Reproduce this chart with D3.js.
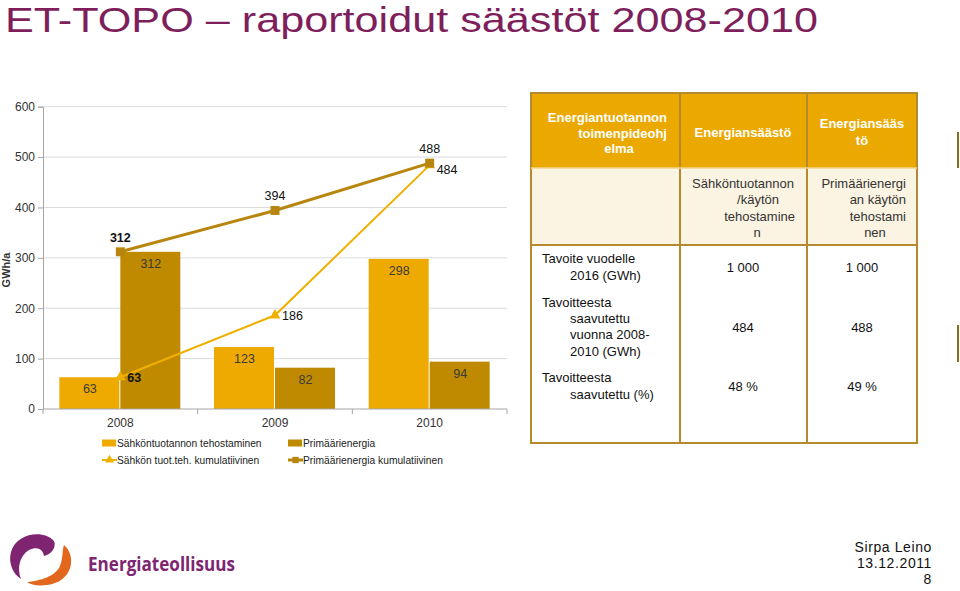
<!DOCTYPE html>
<html><head><meta charset="utf-8">
<script src="https://cdn.jsdelivr.net/npm/d3@7"></script>
<style>
html,body{margin:0;padding:0;background:#fff;}
svg{display:block;font-family:"Liberation Sans",Arial,sans-serif;}
</style></head>
<body>
<svg id="c" width="960" height="591"></svg>
<script>
// ---------- data ----------
const years = ["2008", "2009", "2010"];
const barSeries = ["Sähköntuotannon tehostaminen", "Primäärienergia"];
const sahkoBars = [63, 123, 298];
const primBars = [312, 82, 94];
const lineSeries = ["Sähkön tuot.teh. kumulatiivinen", "Primäärienergia kumulatiivinen"];
const sahkoCum = [63, 186, 484];
const primCum = [312, 394, 488];
const yTicks = [0, 100, 200, 300, 400, 500, 600];
const titleText = "ET-TOPO – raportoidut säästöt 2008-2010";
const yLabel = "GWh/a";

const tableHeader = [["Energiantuotannon", "toimenpideohj", "elma"], ["Energiansäästö"], ["Energiansääs", "tö"]];
const tableSub = [[], ["Sähköntuotannon", "/käytön", "tehostamine", "n"], ["Primäärienergi", "an käytön", "tehostami", "nen"]];
const rowLabels = [["Tavoite vuodelle", "2016 (GWh)"], ["Tavoitteesta", "saavutettu", "vuonna 2008-", "2010 (GWh)"], ["Tavoitteesta", "saavutettu (%)"]];
const colSahko = ["1 000", "484", "48 %"];
const colPrim = ["1 000", "488", "49 %"];
const footer = ["Sirpa Leino", "13.12.2011", "8"];
const logoText = "Energiateollisuus";

// ---------- styles ----------
const C_LIGHT = "#EEAA00", C_DARK = "#BF8A00";
const C_LINE_L = "#F0B000", C_LINE_D = "#B8860E";
const PURPLE = "#7E1F5C";

const svg = d3.select("#c");

// title
svg.append("text").attr("x", 5).attr("y", 32)
  .attr("font-family", "'Liberation Sans Narrow','Arial Narrow','Liberation Sans',sans-serif")
  .attr("font-size", 35).attr("fill", PURPLE)
  .attr("textLength", 813).attr("lengthAdjust", "spacingAndGlyphs")
  .text(titleText);

// ---------- chart ----------
const x0 = d3.scaleBand().domain(years).range([43, 507]).paddingInner(0).paddingOuter(0);
const x1 = d3.scaleBand().domain(barSeries).range([0, x0.bandwidth()]).paddingInner(0).paddingOuter(0.268);
const y = d3.scaleLinear().domain([0, 600]).range([409, 106.7]);

// gridlines
svg.append("g").selectAll("line").data(yTicks.filter(d => d > 0)).join("line")
  .attr("x1", 43).attr("x2", 507).attr("y1", d => y(d)).attr("y2", d => y(d))
  .attr("stroke", "#dcdcdc").attr("stroke-width", 1);

// y axis
const ya = svg.append("g").attr("transform", "translate(43,0)")
  .call(d3.axisLeft(y).tickValues(yTicks).tickSize(5).tickPadding(3));
ya.select(".domain").attr("stroke", "#a6a6a6");
ya.selectAll(".tick line").attr("stroke", "#a6a6a6");
ya.selectAll(".tick text").attr("font-size", 12).attr("fill", "#333").attr("font-family", "'Liberation Sans',Arial,sans-serif");

svg.append("text").attr("transform", "translate(10,270) rotate(-90)")
  .attr("text-anchor", "middle").attr("font-size", 11).attr("font-weight", "bold").attr("fill", "#333")
  .text(yLabel);

// bars
const barData = years.map((yr, i) => ({ yr, vals: [sahkoBars[i], primBars[i]] }));
const groups = svg.append("g").selectAll("g").data(barData).join("g")
  .attr("transform", d => `translate(${x0(d.yr)},0)`);
groups.selectAll("rect").data(d => d.vals.map((v, k) => ({ k, v }))).join("rect")
  .attr("x", d => x1(barSeries[d.k])).attr("width", x1.bandwidth() - 1)
  .attr("y", d => y(d.v)).attr("height", d => y(0) - y(d.v))
  .attr("fill", d => d.k === 0 ? C_LIGHT : C_DARK);
groups.selectAll("text").data(d => d.vals.map((v, k) => ({ k, v }))).join("text")
  .attr("x", d => x1(barSeries[d.k]) + x1.bandwidth() / 2).attr("y", d => y(d.v) + 16)
  .attr("text-anchor", "middle").attr("font-size", 12.5).attr("fill", "#3a3a3a")
  .text(d => d.v);

// x axis
const xa = svg.append("g").attr("transform", "translate(0,409)");
xa.append("line").attr("x1", 43).attr("x2", 507).attr("stroke", "#a6a6a6");
xa.selectAll("line.t").data(years.map(yr => x0(yr) + x0.bandwidth()).concat([x0(years[0])])).join("line")
  .attr("class", "t").attr("x1", d => d).attr("x2", d => d).attr("y1", 0).attr("y2", 5).attr("stroke", "#a6a6a6");
xa.selectAll("text").data(years).join("text")
  .attr("x", d => x0(d) + x0.bandwidth() / 2).attr("y", 18).attr("text-anchor", "middle")
  .attr("font-size", 12).attr("fill", "#333").text(d => d);

// lines
const cx = yr => x0(yr) + x0.bandwidth() / 2;
const lineGen = d3.line().x(d => cx(d.yr)).y(d => y(d.v));
const primPts = years.map((yr, i) => ({ yr, v: primCum[i], i }));
const sahkoPts = years.map((yr, i) => ({ yr, v: sahkoCum[i], i }));
svg.append("path").datum(primPts).attr("d", lineGen).attr("fill", "none").attr("stroke", C_LINE_D).attr("stroke-width", 3);
svg.append("path").datum(sahkoPts).attr("d", lineGen).attr("fill", "none").attr("stroke", C_LINE_L).attr("stroke-width", 2);
const tri = d3.symbol().type(d3.symbolTriangle).size(50);
const sq = d3.symbol().type(d3.symbolSquare).size(80);
svg.append("g").selectAll("path").data(sahkoPts).join("path")
  .attr("transform", d => `translate(${cx(d.yr)},${y(d.v)})`).attr("d", tri).attr("fill", C_LINE_L);
svg.append("g").selectAll("path").data(primPts).join("path")
  .attr("transform", d => `translate(${cx(d.yr)},${y(d.v)})`).attr("d", sq).attr("fill", C_LINE_D);
svg.append("g").selectAll("text").data(primPts).join("text")
  .attr("x", d => cx(d.yr)).attr("y", d => y(d.v) - 10).attr("text-anchor", "middle")
  .attr("font-size", 12.5).attr("font-weight", d => d.i === 0 ? "bold" : "normal").attr("fill", "#111")
  .text(d => d.v);
svg.append("g").selectAll("text").data(sahkoPts).join("text")
  .attr("x", d => cx(d.yr) + 7).attr("y", d => y(d.v) + (d.i === 2 ? 9 : 4.5))
  .attr("font-size", 12.5).attr("font-weight", d => d.i === 0 ? "bold" : "normal").attr("fill", "#111")
  .text(d => d.v);

// legend
const leg = svg.append("g").attr("font-size", 11.5).attr("fill", "#222");
const legItems = [
  { t: barSeries[0], kind: "rect", c: C_LIGHT, x: 102, y: 443 },
  { t: barSeries[1], kind: "rect", c: C_DARK, x: 288, y: 443 },
  { t: lineSeries[0], kind: "tri", c: C_LINE_L, x: 102, y: 460 },
  { t: lineSeries[1], kind: "sq", c: C_LINE_D, x: 288, y: 460 }
];
legItems.forEach(it => {
  if (it.kind === "rect") {
    leg.append("rect").attr("x", it.x).attr("y", it.y - 3.5).attr("width", 14).attr("height", 7).attr("fill", it.c);
  } else {
    leg.append("line").attr("x1", it.x).attr("x2", it.x + 15).attr("y1", it.y).attr("y2", it.y)
      .attr("stroke", it.c).attr("stroke-width", it.kind === "sq" ? 3 : 2);
    leg.append("path").attr("transform", `translate(${it.x + 7.5},${it.y})`)
      .attr("d", it.kind === "sq" ? d3.symbol().type(d3.symbolSquare).size(40)() : d3.symbol().type(d3.symbolTriangle).size(35)())
      .attr("fill", it.c);
  }
  const tx = leg.append("text").attr("x", it.x + 15).attr("y", it.y + 4).text(it.t);
  const w = tx.node().getComputedTextLength();
  tx.attr("textLength", w * 0.89).attr("lengthAdjust", "spacingAndGlyphs");
});

// ---------- table ----------
const T = { x0: 531, x1: 680, x2: 807, x3: 917, y0: 93, y1: 168, y2: 245, y3: 443 };
const BORDER = "#B38B2E";
const tg = svg.append("g").attr("font-family", "'Liberation Sans',Arial,sans-serif");
tg.append("rect").attr("x", T.x0).attr("y", T.y0).attr("width", T.x3 - T.x0).attr("height", T.y1 - T.y0).attr("fill", "#EBA900");
tg.append("rect").attr("x", T.x0).attr("y", T.y1).attr("width", T.x3 - T.x0).attr("height", T.y2 - T.y1).attr("fill", "#FCF4E2");
tg.append("rect").attr("x", T.x0).attr("y", T.y0).attr("width", T.x3 - T.x0).attr("height", T.y3 - T.y0)
  .attr("fill", "none").attr("stroke", BORDER).attr("stroke-width", 2);
[T.x1, T.x2].forEach(xx => tg.append("line").attr("x1", xx).attr("x2", xx).attr("y1", T.y0).attr("y2", T.y3).attr("stroke", BORDER).attr("stroke-width", 2));
tg.append("line").attr("x1", T.x0).attr("x2", T.x3).attr("y1", T.y1).attr("y2", T.y1).attr("stroke", "#F3D58A").attr("stroke-width", 1.5);
tg.append("line").attr("x1", T.x0).attr("x2", T.x3).attr("y1", T.y2).attr("y2", T.y2).attr("stroke", BORDER).attr("stroke-width", 2);

// header
const hdr = tg.append("g").attr("fill", "#fff").attr("font-weight", "bold").attr("font-size", 13);
const hdrPos = [
  [[667, 122, "end"], [667, 138, "end"], [619, 153, "middle"]],
  [[743, 137, "middle"]],
  [[862, 128, "middle"], [862, 145, "middle"]]
];
tableHeader.forEach((lines, c) => lines.forEach((t, j) => {
  const p = hdrPos[c][j];
  hdr.append("text").attr("x", p[0]).attr("y", p[1]).attr("text-anchor", p[2]).text(t);
}));
const sub = tg.append("g").attr("fill", "#333").attr("font-size", 13);
const subPos = [[], [[743, 188, "middle"], [779, 204, "end"], [795, 221, "end"], [757, 237, "middle"]],
  [[906, 188, "end"], [906, 204, "end"], [906, 221, "end"], [875, 237, "middle"]]];
tableSub.forEach((lines, c) => lines.forEach((t, j) => {
  const p = subPos[c][j];
  sub.append("text").attr("x", p[0]).attr("y", p[1]).attr("text-anchor", p[2]).text(t);
}));
// body
const body = tg.append("g").attr("fill", "#111").attr("font-size", 13);
const rowY = [[263, 280], [307, 323, 339, 356], [382, 399]];
rowLabels.forEach((lines, r) => lines.forEach((t, j) => {
  body.append("text").attr("x", j === 0 ? 542 : 570).attr("y", rowY[r][j]).text(t);
}));
const valY = [272, 332, 391];
colSahko.forEach((t, r) => body.append("text").attr("x", 743).attr("y", valY[r]).attr("text-anchor", "middle").text(t));
colPrim.forEach((t, r) => body.append("text").attr("x", 862).attr("y", valY[r]).attr("text-anchor", "middle").text(t));

// right-edge fragments
svg.append("line").attr("x1", 958).attr("x2", 958).attr("y1", 132).attr("y2", 168).attr("stroke", "#8a6d1e").attr("stroke-width", 2);
svg.append("line").attr("x1", 958).attr("x2", 958).attr("y1", 325).attr("y2", 362).attr("stroke", "#8a6d1e").attr("stroke-width", 2);

// ---------- logo ----------
svg.append("path").attr("fill", "#7E2470")
  .attr("d", "M54 541 C44 529 16 533 11 552 C8 563 13 574 21 579 C17 569 19 556 29 550 C37 546 43 549 44 556 C50 555 57 548 54 541 Z");
svg.append("path").attr("fill", "#E2671C")
  .attr("d", "M64 545 C77 556 73 582 47 585 C38 586 31 585 27 582 C40 581 56 576 60 566 C63 559 62 551 64 545 Z");
svg.append("text").attr("x", 88).attr("y", 571).attr("font-family", "'Open Sans','DejaVu Sans',sans-serif")
  .attr("font-weight", "bold").attr("font-size", 19).attr("fill", "#7E2470")
  .attr("textLength", 147).attr("lengthAdjust", "spacingAndGlyphs").text(logoText);

// footer
const ft = svg.append("g").attr("font-size", 14).attr("fill", "#111").attr("text-anchor", "end").attr("letter-spacing", 0.6);
footer.forEach((t, i) => ft.append("text").attr("x", 932).attr("y", 552 + i * 16).text(t));
</script>
</body></html>
